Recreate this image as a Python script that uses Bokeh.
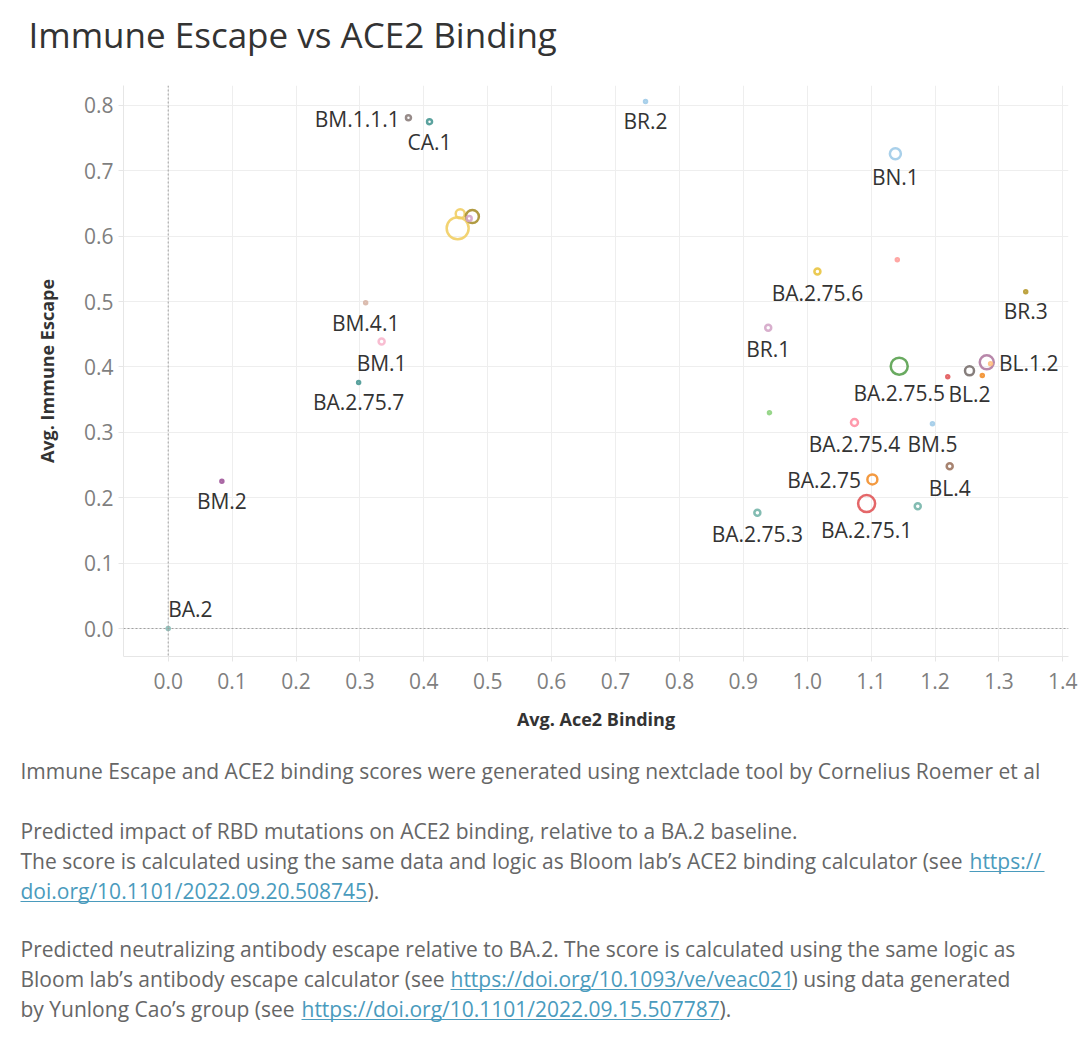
import math
from bokeh.plotting import figure
from bokeh.models import ColumnDataSource, Span, FixedTicker, NumeralTickFormatter, Range1d
from bokeh.embed import file_html
from bokeh.resources import INLINE
from bokeh.core.properties import value

# ---------------- data ----------------
lineages = ["BA.2", "BM.2", "BA.2.75.7", "BM.1", "BM.4.1", "BM.1.1.1", "CA.1",
            "", "", "", "",
            "BR.2", "BN.1", "BA.2.75.6", "", "BR.3", "BR.1",
            "BA.2.75.5", "", "BL.2", "", "BL.1.2", "",
            "", "BA.2.75.4", "BM.5", "BL.4", "BA.2.75", "BA.2.75.1", "", "BA.2.75.3"]
ace2_binding = [0.000, 0.084, 0.298, 0.334, 0.309, 0.376, 0.409,
                0.453, 0.457, 0.476, 0.471,
                0.747, 1.138, 1.016, 1.141, 1.342, 0.939,
                1.144, 1.220, 1.254, 1.274, 1.281, 1.287,
                0.941, 1.074, 1.196, 1.223, 1.102, 1.093, 1.173, 0.922]
immune_escape = [0.000, 0.225, 0.376, 0.439, 0.498, 0.781, 0.775,
                 0.612, 0.634, 0.630, 0.627,
                 0.806, 0.726, 0.546, 0.564, 0.515, 0.460,
                 0.401, 0.385, 0.394, 0.387, 0.407, 0.405,
                 0.330, 0.315, 0.313, 0.248, 0.228, 0.191, 0.187, 0.177]
sequence_count = [1, 1, 1, 16, 1, 9, 9,
                  400, 49, 121, 9,
                  1, 81, 16, 1, 1, 16,
                  225, 1, 49, 1, 144, 1,
                  1, 25, 1, 16, 64, 225, 16, 16]
x_ticks = [0.0, 0.1, 0.2, 0.3, 0.4, 0.5, 0.6, 0.7, 0.8, 0.9, 1.0, 1.1, 1.2, 1.3, 1.4]
y_ticks = [0.0, 0.1, 0.2, 0.3, 0.4, 0.5, 0.6, 0.7, 0.8]

title_text = "Immune Escape vs ACE2 Binding"
x_title = "Avg. Ace2 Binding"
y_title = "Avg. Immune Escape"

# ---------------- styles ----------------
colors = ["#86bcb6", "#a0569a", "#499894", "#f7b6cc", "#d7b5a6", "#8c7e7c", "#499894",
          "#f1ce63", "#f1ce63", "#a8902e", "#d4a6c8",
          "#a0cbe8", "#a0cbe8", "#e9c440", "#ff9d9a", "#b6992d", "#d4a6c8",
          "#59a14f", "#e15759", "#79706e", "#f28e2b", "#b07aa1", "#ffbe7d",
          "#8cd17d", "#ff8fa3", "#a0cbe8", "#9d7660", "#f28e2b", "#e15759", "#75b5aa", "#75b5aa"]
label_side = {"BA.2": "above", "BM.1.1.1": "left", "BA.2.75": "left", "BL.1.2": "right"}
RING_W = 2.5

FONT = "Open Sans"
W, H = 1089, 1041
FRAME_L, FRAME_R, FRAME_T, FRAME_B = 123, 1068, 85, 656
BOTTOM = 90


def blank(height):
    f = figure(width=W, height=height, x_range=Range1d(0, W), y_range=Range1d(height, 0),
               x_axis_type=None, y_axis_type=None, toolbar_location=None,
               output_backend="svg", min_border=0, outline_line_color=None)
    f.grid.visible = False
    return f

# ---------------- header ----------------
head = blank(FRAME_T)
head.text(x=[28], y=[34], text=[title_text], text_baseline="middle", text_align="left",
          text_font=value(FONT), text_font_size="35px", text_color="#333333")

# ---------------- main scatter ----------------
px_per_x = 639.0
px_per_y = 654.0
x0_px, y0_px = 167.7, 628.0
fw = FRAME_R - FRAME_L
fh = FRAME_B - FRAME_T
x_start = -(x0_px - FRAME_L) / px_per_x
x_end = x_start + fw / px_per_x
y_start = -(FRAME_B - y0_px) / px_per_y
y_end = y_start + fh / px_per_y

p = figure(frame_width=fw, frame_height=fh,
           x_range=Range1d(x_start, x_end), y_range=Range1d(y_start, y_end),
           toolbar_location=None, output_backend="svg",
           min_border_left=FRAME_L, min_border_right=W - FRAME_R,
           min_border_top=0, min_border_bottom=BOTTOM,
           outline_line_color=None)

for ax, ticks in ((p.xaxis, x_ticks), (p.yaxis, y_ticks)):
    ax.ticker = FixedTicker(ticks=ticks)
    ax.formatter = NumeralTickFormatter(format="0.0")
    ax.axis_line_color = "#e6e6e6"
    ax.major_tick_line_color = "#e6e6e6"
    ax.major_tick_out = 5
    ax.major_tick_in = 0
    ax.minor_tick_line_color = None
    ax.major_label_text_font = FONT
    ax.major_label_text_font_size = "21px"
    ax.major_label_text_color = "#7f7f7f"
    ax.axis_label_text_font = FONT
    ax.axis_label_text_font_size = "18px"
    ax.axis_label_text_font_style = "bold"
    ax.axis_label_text_color = "#333333"

p.xaxis.axis_label = x_title
p.yaxis.axis_label = y_title
p.xaxis.major_label_standoff = 11
p.yaxis.major_label_standoff = 5
p.xaxis.axis_label_standoff = 15
p.yaxis.axis_label_standoff = 22

p.xgrid.ticker = FixedTicker(ticks=x_ticks)
p.ygrid.ticker = FixedTicker(ticks=y_ticks)
p.grid.grid_line_color = "#eeeeee"
p.grid.grid_line_width = 1

p.add_layout(Span(location=0, dimension="height", line_color="#a0a0a0", line_dash="2 2", line_width=1))
p.add_layout(Span(location=0, dimension="width", line_color="#a0a0a0", line_dash="2 2", line_width=1))

sizes = [2 + math.sqrt(c) for c in sequence_count]
src = ColumnDataSource(dict(x=ace2_binding, y=immune_escape, size=sizes, color=colors, name=lineages))
p.scatter("x", "y", source=src, size="size", marker="circle", fill_color=None,
          line_color="color", line_width=RING_W, line_alpha=0.9)

groups = {k: dict(x=[], y=[], t=[], xo=[], yo=[]) for k in ("below", "left", "right", "above")}
for name, xv, yv, s in zip(lineages, ace2_binding, immune_escape, sizes):
    if not name:
        continue
    r = (s + RING_W) / 2.0
    side = label_side.get(name, "below")
    g = groups[side]
    g["x"].append(xv); g["y"].append(yv); g["t"].append(name)
    if side == "below":
        g["xo"].append(0); g["yo"].append(r + 17)
    elif side == "left":
        g["xo"].append(-(r + 5)); g["yo"].append(1)
    elif side == "right":
        g["xo"].append(r + 4); g["yo"].append(1)
    else:
        g["xo"].append(0); g["yo"].append(-20)

align = {"below": "center", "left": "right", "right": "left", "above": "left"}
for side, g in groups.items():
    if not g["t"]:
        continue
    p.text(x="x", y="y", text="t", x_offset="xo", y_offset="yo",
           source=ColumnDataSource(g), text_align=align[side], text_baseline="middle",
           text_font=value(FONT), text_font_size="21px", text_color="#333333")

# ---------------- notes ----------------
FOOT_TOP = FRAME_B + BOTTOM
foot = blank(H - FOOT_TOP)

TXT = "#666666"
LINK = "#4a9bbd"
segments = [
    (20, 770, "Immune Escape and ACE2 binding scores were generated using nextclade tool by Cornelius Roemer et al", TXT),
    (20, 830, "Predicted impact of RBD mutations on ACE2 binding, relative to a BA.2 baseline.", TXT),
    (20, 860, "The score is calculated using the same data and logic as Bloom lab\u2019s ACE2 binding calculator (see ", TXT),
    (969, 860, "https://", LINK),
    (20, 890, "doi.org/10.1101/2022.09.20.508745", LINK),
    (367, 890, ").", TXT),
    (20, 948, "Predicted neutralizing antibody escape relative to BA.2. The score is calculated using the same logic as", TXT),
    (20, 978, "Bloom lab\u2019s antibody escape calculator (see ", TXT),
    (450, 978, "https://doi.org/10.1093/ve/veac021", LINK),
    (791, 978, ") using data generated", TXT),
    (20, 1008, "by Yunlong Cao\u2019s group (see ", TXT),
    (301, 1008, "https://doi.org/10.1101/2022.09.15.507787", LINK),
    (719, 1008, ").", TXT),
]
fsrc = ColumnDataSource(dict(x=[s[0] for s in segments], y=[s[1] - FOOT_TOP for s in segments],
                             t=[s[2] for s in segments], c=[s[3] for s in segments]))
foot.text(x="x", y="y", text="t", text_color="c", source=fsrc, text_align="left",
          text_baseline="middle", text_font=value(FONT), text_font_size="21px")

underlines = [(969, 1044, 860), (20, 367, 890), (450, 790, 978), (301, 719, 1008)]
foot.segment(x0=[u[0] for u in underlines], x1=[u[1] for u in underlines],
             y0=[u[2] - FOOT_TOP + 11 for u in underlines], y1=[u[2] - FOOT_TOP + 11 for u in underlines],
             line_color=LINK, line_width=1)

open("out.html", "w").write(file_html([head, p, foot], INLINE))
